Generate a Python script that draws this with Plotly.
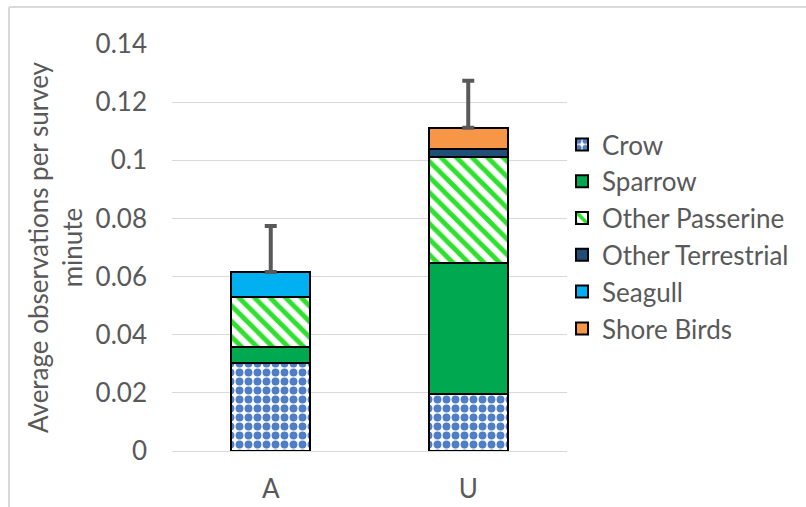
import plotly.graph_objects as go

sites = ["A", "U"]
crow = [0.0303, 0.0196]
sparrow = [0.0055, 0.0451]
other_passerine = [0.0172, 0.0365]
other_terrestrial = [0.0, 0.0028]
seagull = [0.0086, 0.0]
shore_birds = [0.0, 0.0072]
error_plus = [0.0158, 0.0162]

series = [
    ("Crow", crow),
    ("Sparrow", sparrow),
    ("Other Passerine", other_passerine),
    ("Other Terrestrial", other_terrestrial),
    ("Seagull", seagull),
    ("Shore Birds", shore_birds),
]

styles = {
    "Crow": dict(color="white", pattern=dict(shape=".", fgcolor="#4F7EC5", bgcolor="white", fgopacity=1,
                                             size=9, solidity=0.6, fillmode="overlay")),
    "Sparrow": dict(color="#00A94F"),
    "Other Passerine": dict(color="white", pattern=dict(shape="\\", fgcolor="#2FE02F", bgcolor="white", fgopacity=1,
                                                        size=11, solidity=0.45, fillmode="overlay")),
    "Other Terrestrial": dict(color="#1F4E79"),
    "Seagull": dict(color="#00B0F0"),
    "Shore Birds": dict(color="#F79646"),
}

FS = 26
GREY = "#595959"

fig = go.Figure()
for name, vals in series:
    m = dict(styles[name])
    m["line"] = dict(color="#000000", width=2)
    fig.add_trace(go.Bar(x=sites, y=vals, name=name, marker=m, width=0.4, legendgroup=name))

totals = [sum(v[i] for _, v in series) for i in range(len(sites))]
fig.add_trace(go.Scatter(
    x=sites, y=totals, mode="markers", marker=dict(opacity=0, size=1),
    showlegend=False, hoverinfo="skip",
    error_y=dict(type="data", array=error_plus, arrayminus=[0, 0], symmetric=False,
                 color=GREY, thickness=4, width=6),
))

L, R, T, B = 172, 567, 44, 451
W, H = 806, 507
pw, ph = R - L, B - T

def px_x(x):
    return (x - L) / pw

def px_y(y):
    return (B - y) / ph

fig.update_layout(
    width=W, height=H,
    margin=dict(l=L, r=W - R, t=T, b=H - B, pad=0, autoexpand=False),
    barmode="stack",
    plot_bgcolor="white", paper_bgcolor="white",
    font=dict(family="Lato", size=FS, color=GREY),
    showlegend=True,
    legend=dict(traceorder="normal", tracegroupgap=4, x=px_x(562), y=px_y(121), xanchor="left", yanchor="top",
                font=dict(size=FS, color=GREY), bgcolor="rgba(0,0,0,0)"),
    xaxis=dict(showgrid=False, showline=False, ticks="", ticklabelstandoff=20, automargin=False,
               tickfont=dict(size=FS, color=GREY)),
    yaxis=dict(range=[0, 0.14], tickvals=[0, 0.02, 0.04, 0.06, 0.08, 0.1, 0.12, 0.14],
               ticktext=["0", "0.02", "0.04", "0.06", "0.08", "0.1", "0.12", "0.14"],
               showgrid=True, gridcolor="#D9D9D9", gridwidth=1, automargin=False,
               zeroline=True, zerolinecolor="#D9D9D9", zerolinewidth=1,
               ticks="", ticklabelstandoff=24, tickfont=dict(size=FS, color=GREY),
               title=dict(text="Average observations per survey<br>minute", standoff=5,
                          font=dict(size=FS, color=GREY))),
    shapes=[
        dict(type="line", xref="paper", yref="paper", x0=px_x(9), x1=px_x(9), y0=px_y(7), y1=px_y(520),
             line=dict(color="#D9D9D9", width=2)),
        dict(type="line", xref="paper", yref="paper", x0=px_x(9), x1=px_x(820), y0=px_y(7), y1=px_y(7),
             line=dict(color="#D9D9D9", width=2)),
    ],
)

fig.write_html("out.html")
